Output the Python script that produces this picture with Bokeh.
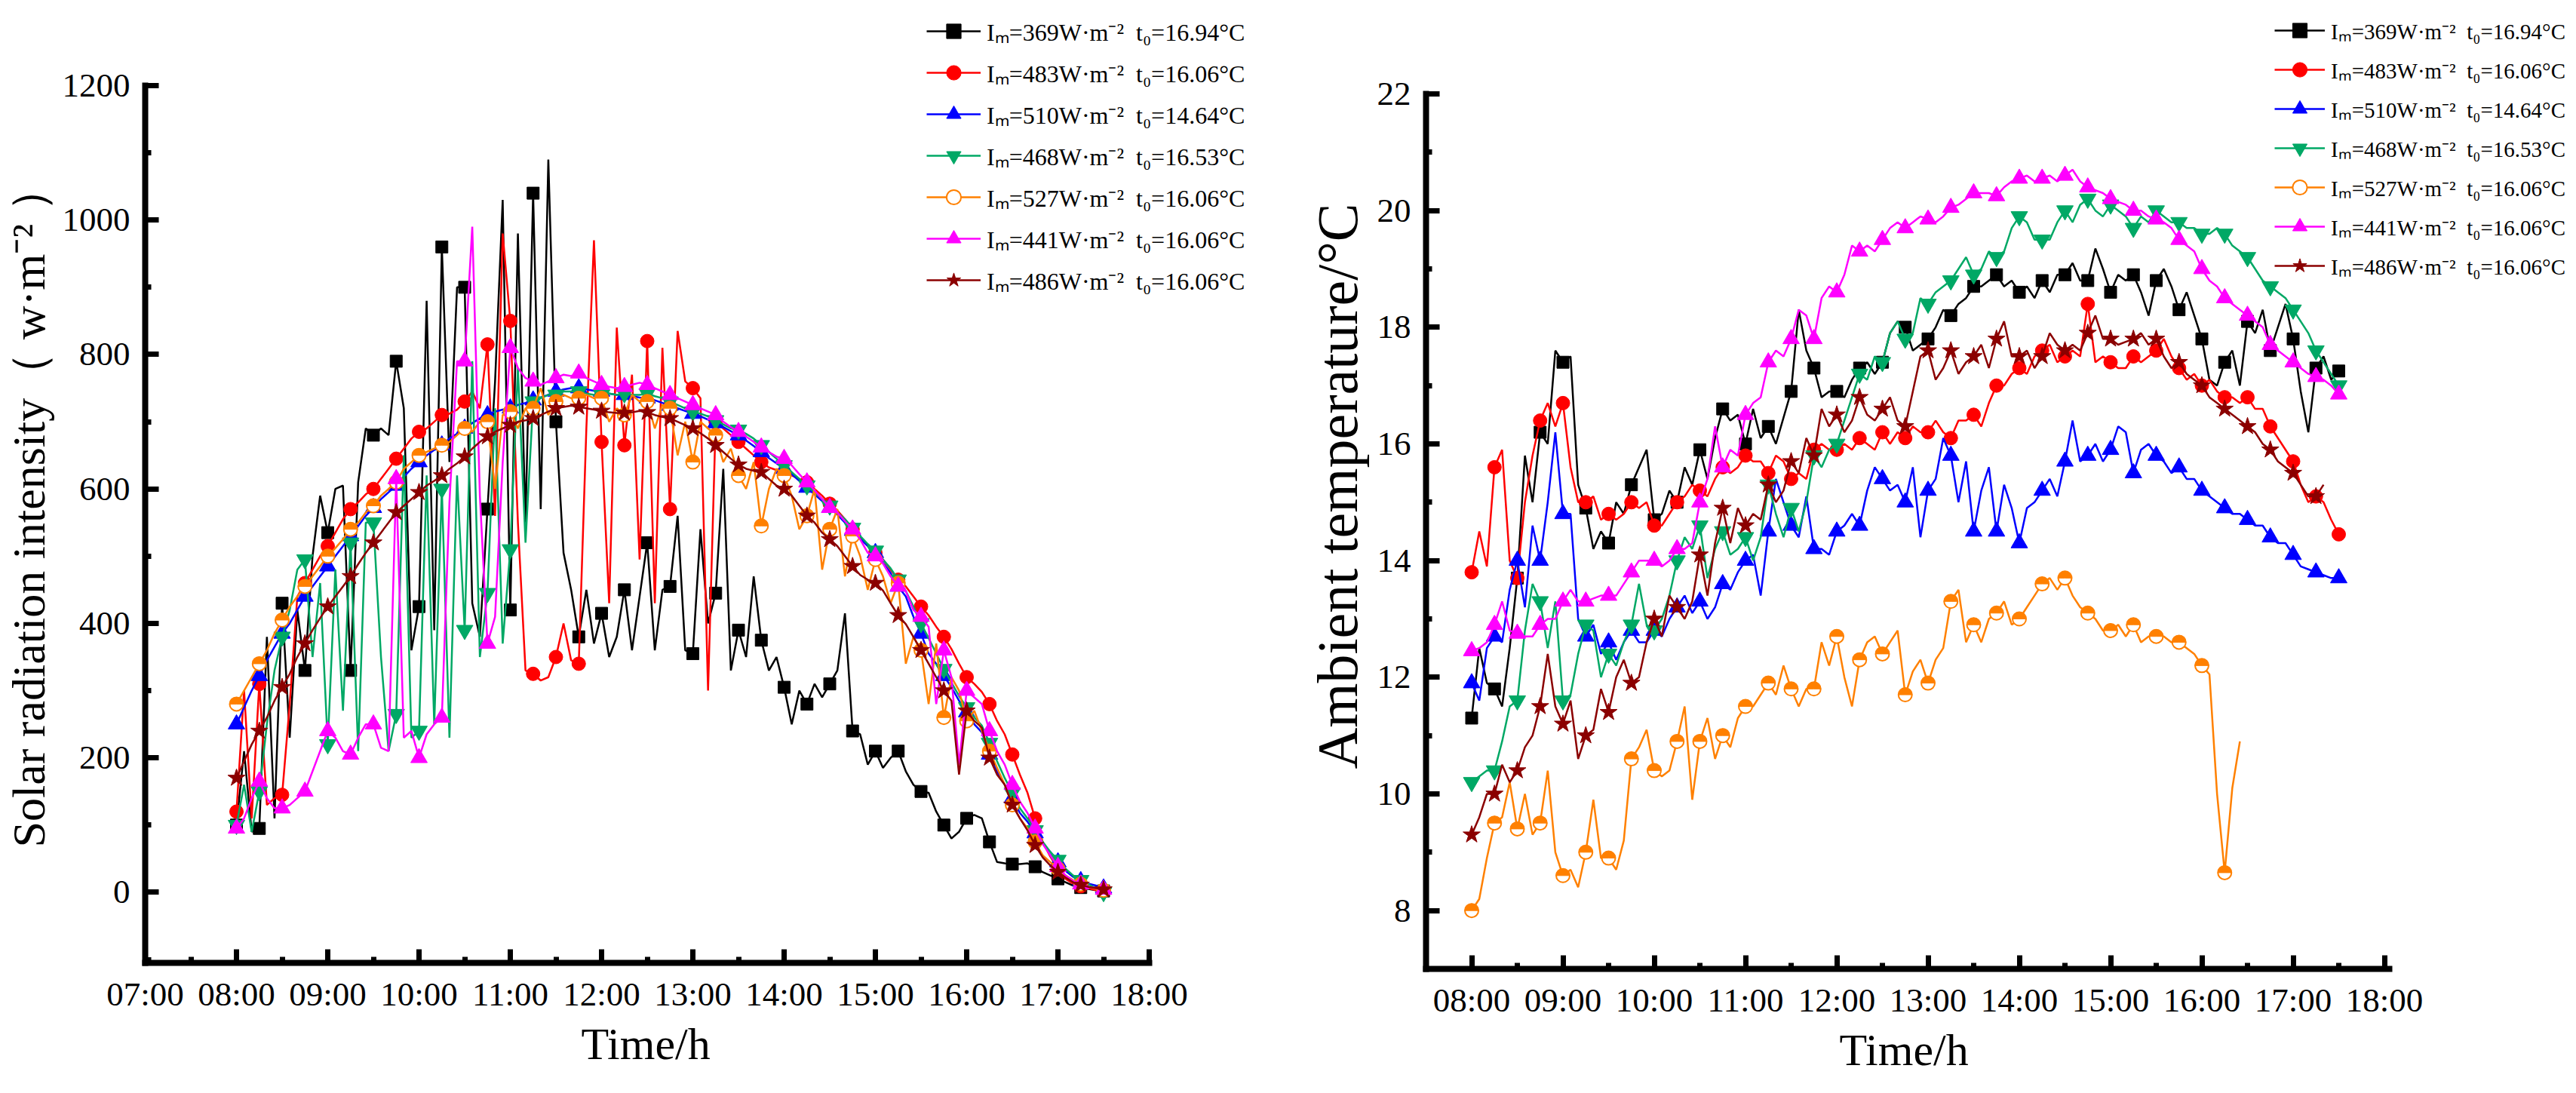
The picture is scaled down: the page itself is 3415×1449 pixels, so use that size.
import numpy as np
from bokeh.plotting import figure
from bokeh.models import FixedTicker, Legend, LegendItem, Range1d, Title
from bokeh.layouts import row
from bokeh.embed import file_html
from bokeh.resources import INLINE

# sampling times (minutes after midnight), 08:00 .. 17:30 every 5 min
minutes = list(range(480, 1051, 5))
hour_ticks = list(range(7, 19))
half_ticks = [h + 0.5 for h in range(7, 18)]
tick_labels = {h: f"{h:02d}:00" for h in hour_ticks}

labels = [
    "Iₘ=369W·m⁻²  t₀=16.94°C",
    "Iₘ=483W·m⁻²  t₀=16.06°C",
    "Iₘ=510W·m⁻²  t₀=14.64°C",
    "Iₘ=468W·m⁻²  t₀=16.53°C",
    "Iₘ=527W·m⁻²  t₀=16.06°C",
    "Iₘ=441W·m⁻²  t₀=16.06°C",
    "Iₘ=486W·m⁻²  t₀=16.06°C",
]
colors = ["#000000", "#FF0000", "#0000FF", "#00A865", "#FF8000", "#FF00FF", "#8B0000"]
markers = ["square", "circle", "triangle", "inverted_triangle", "halfcircle", "triangle", "star"]
msizes = [16, 18, 22, 22, 18, 22, 24]

# ---------------- Solar radiation intensity (W/m2) ----------------
rad_369 = [100, 210, 90, 95, 380, 110, 430, 230, 420, 330, 500, 590,
           535, 600, 605, 330, 610, 690, 680, 690, 680, 790, 720, 360,
           425, 880, 390, 960, 640, 900, 900, 430, 380, 570, 760, 1030,
           420, 980, 550, 1040, 570, 1090, 700, 505, 450, 380, 450, 370,
           415, 350, 380, 450, 360, 440, 520, 360, 450, 455, 560, 360,
           355, 540, 400, 445, 630, 330, 390, 350, 470, 375, 330, 350,
           305, 250, 300, 280, 310, 290, 310, 330, 415, 240, 235, 190,
           210, 185, 200, 210, 180, 160, 150, 148, 120, 100, 80, 90,
           110, 115, 110, 75, 45, 43, 42, 42, 43, 38, 30, 25,
           20, 15, 10, 7, 5, 3, 2]
rad_483 = [120, 300, 110, 310, 130, 140, 145, 280, 440, 460, 480, 500,
           515, 535, 555, 570, 580, 592, 600, 615, 630, 645, 660, 675,
           685, 690, 700, 710, 712, 718, 730, 745, 720, 815, 560, 980,
           850, 550, 330, 325, 315, 320, 350, 400, 345, 340, 690, 970,
           670, 430, 840, 665, 770, 495, 820, 430, 810, 570, 835, 760,
           750, 735, 300, 700, 690, 680, 670, 660, 650, 640, 632, 628,
           625, 620, 615, 610, 600, 590, 578, 568, 555, 540, 528, 515,
           505, 495, 480, 465, 455, 440, 425, 412, 395, 380, 362, 340,
           320, 310, 298, 280, 255, 235, 205, 175, 148, 110, 75, 53,
           35, 20, 13, 9, 6, 3, 2]
rad_510 = [250, 275, 300, 322, 345, 365, 385, 400, 420, 440, 455, 470,
           485, 500, 515, 530, 545, 560, 572, 585, 595, 605, 618, 630,
           640, 650, 658, 665, 675, 682, 690, 698, 705, 710, 715, 718,
           720, 725, 728, 732, 736, 740, 745, 748, 750, 750, 748, 746,
           745, 742, 740, 740, 738, 736, 735, 732, 728, 724, 720, 716,
           712, 708, 703, 698, 692, 686, 680, 672, 664, 655, 646, 638,
           630, 622, 612, 602, 592, 582, 572, 562, 550, 538, 526, 515,
           505, 490, 475, 455, 440, 410, 385, 355, 340, 322, 305, 285,
           268, 250, 238, 205, 180, 160, 140, 118, 105, 88, 72, 60,
           45, 32, 23, 17, 13, 10, 6]
rad_468 = [100, 160, 90, 150, 250, 330, 380, 420, 480, 495, 350, 460,
           220, 480, 270, 520, 210, 550, 550, 350, 210, 265, 650, 230,
           240, 620, 250, 600, 230, 620, 390, 790, 350, 445, 720, 370,
           510, 780, 520, 730, 735, 740, 740, 745, 745, 745, 742, 740,
           740, 742, 740, 742, 740, 740, 742, 738, 735, 730, 725, 720,
           715, 712, 708, 702, 696, 690, 688, 682, 675, 665, 655, 645,
           635, 625, 615, 605, 595, 585, 575, 565, 555, 542, 530, 518,
           508, 495, 482, 465, 448, 425, 400, 378, 355, 332, 312, 292,
           275, 260, 248, 222, 195, 170, 148, 125, 110, 92, 75, 60,
           48, 35, 25, 18, 12, 6, 0]
rad_527 = [280, 300, 320, 340, 360, 385, 405, 425, 440, 455, 470, 485,
           500, 512, 525, 540, 550, 565, 575, 590, 600, 610, 630, 640,
           650, 655, 660, 665, 670, 680, 690, 685, 700, 700, 600, 710,
           715, 690, 720, 720, 750, 710, 730, 740, 735, 735, 740, 735,
           735, 700, 720, 710, 740, 730, 730, 690, 725, 720, 650, 700,
           640, 700, 690, 680, 640, 660, 620, 600, 640, 545, 600, 630,
           620, 590, 540, 560, 600, 480, 540, 570, 470, 530, 500, 450,
           495, 470, 430, 460, 340, 380, 360, 280, 370, 260, 320, 300,
           255, 270, 240, 210, 185, 160, 130, 110, 95, 75, 55, 45,
           35, 25, 18, 12, 8, 5, 3]
rad_441 = [95, 110, 140, 165, 140, 125, 125, 130, 140, 150, 180, 210,
           240, 230, 210, 205, 230, 250, 250, 215, 210, 615, 230, 240,
           200, 235, 250, 260, 580, 790, 790, 990, 590, 370, 410, 640,
           810, 780, 765, 760, 755, 760, 765, 770, 768, 772, 765, 760,
           755, 752, 750, 752, 755, 758, 755, 750, 745, 740, 735, 730,
           725, 720, 715, 710, 700, 692, 685, 678, 670, 662, 655, 648,
           645, 635, 622, 610, 598, 585, 572, 565, 552, 540, 525, 505,
           500, 489, 470, 455, 448, 420, 410, 395, 280, 360, 320, 190,
           300, 290, 280, 240, 210, 190, 160, 135, 118, 95, 72, 55,
           38, 25, 17, 12, 8, 6, 4]
rad_486 = [170, 195, 220, 240, 260, 285, 305, 325, 350, 370, 390, 408,
           425, 440, 455, 470, 488, 505, 520, 535, 550, 565, 575, 585,
           595, 605, 612, 620, 630, 638, 648, 660, 670, 678, 685, 690,
           695, 700, 702, 705, 710, 715, 720, 722, 724, 722, 720, 718,
           716, 714, 713, 713, 714, 716, 714, 710, 707, 705, 700, 695,
           690, 683, 675, 665, 655, 645, 636, 630, 627, 625, 615, 605,
           600, 590, 575, 560, 550, 535, 525, 515, 500, 485, 472, 465,
           460, 449, 430, 412, 399, 380, 360, 340, 320, 300, 285, 175,
           270, 255, 245, 200, 175, 160, 130, 110, 92, 70, 52, 40,
           30, 22, 15, 11, 8, 6, 4]

# ---------------- Ambient temperature (deg C) ----------------
temp_369 = [11.3, 12.5, 11.9, 11.8, 11.5, 12.5, 13.7, 15.8, 15.0, 16.2, 16.0, 17.6,
            17.4, 17.5, 15.3, 14.9, 14.2, 14.5, 14.3, 15.0, 14.8, 15.3, 15.6, 15.9,
            14.7, 14.8, 15.2, 15.0, 15.6, 15.3, 15.9, 15.4, 16.1, 16.6, 16.4, 16.5,
            16.0, 16.6, 16.1, 16.3, 16.0, 16.45, 16.9, 18.3, 17.6, 17.3, 16.8, 16.9,
            16.9, 16.8, 17.1, 17.3, 17.4, 17.2, 17.4, 17.9, 18.1, 18.0, 17.6, 17.7,
            17.8, 18.0, 18.3, 18.2, 18.4, 18.5, 18.7, 18.7, 18.8, 18.9, 18.7, 18.8,
            18.6, 18.7, 18.5, 18.8, 18.6, 18.9, 18.9, 19.1, 18.8, 18.8, 19.35, 19.0,
            18.6, 18.9, 18.8, 18.9, 18.6, 18.2, 18.8, 19.0, 18.7, 18.3, 18.6, 18.2,
            17.8, 17.1, 17.0, 17.4, 17.6, 17.0, 18.1, 17.9, 18.3, 17.6, 18.0, 18.4,
            17.8, 16.9, 16.2, 17.3, 17.5, 17.1, 17.25]
temp_483 = [13.8, 14.5, 13.9, 15.6, 15.9, 14.0, 13.7, 15.0, 15.8, 16.4, 16.7, 16.3,
            16.7, 15.6, 15.0, 15.0, 15.1, 14.7, 14.8, 14.7, 14.8, 15.0, 14.9, 15.0,
            14.6, 14.6, 14.8, 15.0, 15.1, 15.3, 15.2, 15.1, 15.4, 15.6, 15.5, 15.6,
            15.8, 15.7, 15.7, 15.5, 15.8, 15.7, 15.4, 15.5, 15.4, 15.9, 16.0, 15.9,
            15.9, 16.0, 15.9, 16.1, 16.0, 15.9, 16.2, 16.0, 16.2, 16.1, 16.3, 16.2,
            16.2, 16.4, 16.2, 16.1, 16.4, 16.4, 16.5, 16.3, 16.7, 17.0, 17.0, 17.2,
            17.3, 17.2, 17.5, 17.6, 17.7, 17.4, 17.5, 17.6, 17.5, 18.4, 17.4, 17.5,
            17.4, 17.3, 17.3, 17.5, 17.4, 17.5, 17.6, 17.8, 17.5, 17.3, 17.1, 17.2,
            17.0, 17.1, 16.9, 16.8, 16.8, 16.7, 16.8, 16.6, 16.6, 16.3, 16.1, 15.9,
            15.7, 15.3, 15.0, 15.1, 15.0, 14.7, 14.45]
temp_510 = [11.9, 11.6, 12.5, 12.7, 12.6, 13.5, 14.0, 13.2, 14.6, 14.0, 15.0, 16.2,
            14.8, 14.8, 13.0, 12.7, 12.9, 12.4, 12.6, 12.3, 12.6, 12.8, 12.6, 12.6,
            12.8, 12.7, 13.0, 13.2, 13.4, 13.1, 13.3, 13.0, 13.2, 13.6, 13.5, 13.8,
            14.0, 14.1, 13.4, 14.5, 15.4, 15.0, 14.6, 14.4, 15.1, 14.2, 14.2, 14.1,
            14.5, 14.6, 14.8, 14.6, 15.2, 15.6, 15.4, 15.2, 15.3, 15.0, 15.6, 14.4,
            15.2, 15.4, 16.1, 15.8, 15.0, 15.7, 14.5, 15.2, 15.6, 14.5, 15.3, 14.9,
            14.3, 14.9, 15.0, 15.2, 15.4, 15.1, 15.7, 16.4, 15.7, 15.8, 16.0, 15.7,
            15.9, 16.3, 16.2, 15.5, 15.9, 16.0, 15.8, 15.7, 15.5, 15.6, 15.4, 15.4,
            15.2, 15.1, 15.0, 14.9, 14.8, 14.8, 14.7, 14.6, 14.6, 14.4, 14.3, 14.3,
            14.1, 13.9, 13.85, 13.8, 13.75, 13.7, 13.7]
temp_468 = [10.2, 10.3, 10.4, 10.4, 10.9, 11.5, 11.6, 12.8, 13.6, 13.3, 12.5, 13.3,
            11.6, 11.7, 12.4, 12.9, 12.8, 12.0, 12.4, 12.2, 12.6, 12.9, 13.6, 12.9,
            12.8, 13.0, 13.4, 14.0, 14.4, 14.2, 14.6, 13.7, 14.2, 14.5, 14.1, 14.2,
            14.4, 14.0, 14.4, 15.3, 14.8, 14.4, 14.9, 14.5, 15.0, 15.8, 15.6, 15.9,
            16.0, 16.4, 16.8, 17.2, 17.1, 17.5, 17.4, 17.9, 18.1, 17.8, 17.9, 18.5,
            18.4, 18.6, 18.7, 18.8, 19.0, 19.2, 18.9, 19.0, 19.3, 19.2, 19.3, 19.7,
            19.9, 19.8, 19.5, 19.5, 19.5, 19.8, 20.0, 19.8, 20.1, 20.2, 20.0, 19.9,
            20.1, 20.0, 19.9, 19.7, 19.9, 19.8, 20.0, 19.9, 19.8, 19.8, 19.7, 19.7,
            19.6, 19.6, 19.7, 19.6, 19.4, 19.3, 19.2, 19.0, 18.8, 18.7, 18.6, 18.5,
            18.3, 18.1, 17.9, 17.6, 17.4, 17.2, 17.0]
temp_527 = [8.0, 8.2, 8.9, 9.5, 9.6, 10.2, 9.4, 10.0, 9.3, 9.5, 10.4, 9.0,
            8.6, 8.7, 8.4, 9.0, 9.9, 8.9, 8.9, 8.7, 9.2, 10.6, 10.8, 11.1,
            10.4, 10.3, 10.4, 10.9, 11.5, 9.9, 10.9, 11.3, 10.6, 11.0, 10.8, 11.3,
            11.5, 11.5, 11.7, 11.9, 11.7, 12.2, 11.8, 11.5, 11.8, 11.8, 12.6, 12.2,
            12.7, 12.0, 11.5, 12.3, 12.6, 12.7, 12.4, 12.6, 12.8, 11.7, 12.1, 12.3,
            11.9, 12.3, 12.5, 13.3, 13.5, 12.6, 12.9, 12.6, 13.0, 13.1, 13.3, 12.9,
            13.0, 13.2, 13.4, 13.6, 13.7, 13.5, 13.7, 13.4, 13.2, 13.1, 13.0, 12.8,
            12.8, 12.9, 12.7, 12.9, 12.6, 12.7, 12.7, 12.7, 12.6, 12.6, 12.5, 12.4,
            12.2, 12.05, 10.0, 8.65, 10.1, 10.9]
temp_441 = [12.45, 12.5, 12.6, 12.9, 13.3, 12.8, 12.75, 12.7, 12.7, 12.9, 13.0, 13.0,
            13.3, 13.5, 13.3, 13.3, 13.35, 13.4, 13.4, 13.4, 13.6, 13.8, 14.0, 14.0,
            14.0, 13.9, 14.0, 14.2, 14.2, 14.3, 15.0, 15.4, 16.3, 15.6, 15.9, 15.8,
            16.5, 16.7, 16.8, 17.4, 17.6, 17.5, 17.8, 18.3, 18.2, 17.8, 18.5, 18.7,
            18.6, 18.9, 19.4, 19.3, 19.4, 19.3, 19.5, 19.7, 19.8, 19.7, 19.8, 19.9,
            19.85, 19.8, 19.9, 20.05, 20.1, 20.2, 20.3, 20.3, 20.3, 20.25, 20.4, 20.5,
            20.55, 20.6, 20.5, 20.55, 20.6, 20.5, 20.6, 20.7, 20.5, 20.4, 20.35, 20.3,
            20.2, 20.15, 20.1, 20.0, 20.0, 19.9, 19.85, 19.8, 19.7, 19.5, 19.4, 19.3,
            19.0, 18.8, 18.7, 18.5, 18.4, 18.3, 18.2, 18.1, 18.0, 17.7, 17.6, 17.5,
            17.4, 17.3, 17.2, 17.15, 17.1, 17.0, 16.85]
temp_486 = [9.3, 9.6, 10.0, 10.0, 10.5, 10.2, 10.4, 10.8, 11.0, 11.5, 12.4, 11.5,
            11.2, 11.6, 10.6, 11.0, 11.1, 11.8, 11.4, 12.0, 12.3, 11.9, 12.0, 12.6,
            13.0, 12.7, 13.4, 13.2, 13.0, 13.3, 14.1, 13.4, 14.3, 14.9, 14.3, 14.9,
            14.6, 14.8, 14.7, 15.3, 15.0, 15.2, 15.7, 15.5, 16.1, 15.8, 16.6, 16.3,
            16.5, 16.2, 16.4, 16.8, 16.5, 16.4, 16.6, 16.8, 16.4, 16.3, 16.9, 17.5,
            17.6, 17.1, 17.3, 17.6, 17.2, 17.4, 17.5, 17.7, 17.3, 17.8, 18.1, 17.5,
            17.5, 17.6, 17.3, 17.5, 17.9, 17.7, 17.6, 17.7, 17.6, 17.9, 18.2, 17.8,
            17.8, 17.7, 17.75, 17.8, 17.9, 17.7, 17.8, 17.5, 17.3, 17.4, 17.2, 17.1,
            17.0, 16.8, 16.7, 16.6, 16.5, 16.4, 16.3, 16.2, 16.0, 15.9, 15.7, 15.6,
            15.5, 15.3, 15.1, 15.1, 15.3]

rad_series = [rad_369, rad_483, rad_510, rad_468, rad_527, rad_441, rad_486]
temp_series = [temp_369, temp_483, temp_510, temp_468, temp_527, temp_441, temp_486]

FONT = "Liberation Serif"
NBSP = "\u00a0"


def style_axes(p, ylabel, ylabel_size, xlabel_offset):
    p.yaxis.axis_label = ylabel
    for ax in (p.xaxis[0], p.yaxis[0]):
        ax.axis_line_width = 8
        ax.axis_line_cap = "square"
        ax.axis_line_color = "black"
        ax.major_tick_in = 18
        ax.major_tick_out = 0
        ax.minor_tick_in = 8
        ax.minor_tick_out = 0
        ax.major_tick_line_width = 7
        ax.minor_tick_line_width = 7
        ax.major_tick_line_color = "black"
        ax.minor_tick_line_color = "black"
        ax.major_label_text_font = FONT
        ax.major_label_text_font_size = "45px"
        ax.major_label_text_color = "black"
        ax.axis_label_text_font = FONT
        ax.axis_label_text_font_style = "normal"
        ax.axis_label_text_color = "black"
    p.yaxis.axis_label_text_font_size = ylabel_size
    p.xaxis.major_label_standoff = 16
    p.yaxis.major_label_standoff = 20
    p.yaxis.axis_label_standoff = 8
    p.xgrid.visible = False
    p.ygrid.visible = False
    p.outline_line_color = None
    # x axis title, centred under the (bounded) axis line
    xt = Title(text="Time/h", align="left", offset=xlabel_offset,
               text_font=FONT, text_font_size="60px", text_font_style="normal",
               text_color="black", standoff=6)
    p.add_layout(xt, "below")


def add_series(p, ys, color, marker, size):
    xs = [m / 60 for m in minutes[:len(ys)]]
    line = p.line(xs, ys, line_color=color, line_width=2.5)
    mx, my = xs[::3], ys[::3]
    if marker == "halfcircle":
        sc = p.scatter(mx, my, marker="circle", size=size, fill_color="white",
                       line_color=color, line_width=2)
        p.wedge(mx, my, radius=size / 2, radius_units="screen", start_angle=0,
                end_angle=np.pi, fill_color=color, line_color=color, line_width=1)
    else:
        sc = p.scatter(mx, my, marker=marker, size=size, fill_color=color,
                       line_color=color)
    return [line, sc]


def make_legend(items, x, y, font_size, glyph_w, item_h, spacing):
    lg = Legend(items=items, location=(x, y), orientation="vertical")
    lg.label_text_font = FONT
    lg.label_text_font_size = font_size
    lg.label_text_color = "black"
    lg.glyph_width = glyph_w
    lg.glyph_height = item_h
    lg.label_height = item_h
    lg.label_standoff = 8
    lg.spacing = spacing
    lg.padding = 0
    lg.margin = 0
    lg.border_line_alpha = 0
    lg.background_fill_alpha = 0
    return lg


# ---------------- left: solar radiation ----------------
# frame is widened to the right and top so that the legend fits in it;
# the axes themselves are limited with bounds.
L_PX_PER_H = 121.0
L_PX_PER_U = 1163.0 / 1305.0
L_FW, L_FH = 1500, 1272
p1 = figure(frame_width=L_FW, frame_height=L_FH, output_backend="svg",
            toolbar_location=None,
            x_range=Range1d(7, 7 + L_FW / L_PX_PER_H),
            y_range=Range1d(-105, -105 + L_FH / L_PX_PER_U),
            min_border_left=182, min_border_right=10, min_border_top=4,
            min_border_bottom=157, background_fill_color="white", border_fill_color="white")
p1.xaxis.ticker = FixedTicker(ticks=hour_ticks, minor_ticks=half_ticks)
p1.xaxis.major_label_overrides = tick_labels
p1.xaxis.bounds = (7, 18)
p1.yaxis.ticker = FixedTicker(ticks=list(range(0, 1201, 200)),
                              minor_ticks=list(range(-100, 1200, 100)))
p1.yaxis.bounds = (-105, 1200)
style_axes(p1, "Solar radiation intensity（ w·m⁻² ）" + NBSP * 4, "62px", 578)
items1 = []
for lab, ys, c, mk, sz in zip(labels, rad_series, colors, markers, msizes):
    items1.append(LegendItem(label=lab, renderers=add_series(p1, ys, c, mk, sz)))
p1.add_layout(make_legend(items1, 1036, 881, "32px", 72, 48, 7))

# ---------------- right: ambient temperature ----------------
R_PX_PER_H = 121.0
R_PX_PER_U = 1160.0 / 15.0
R_FW, R_FH = 1519, 1280
p2 = figure(frame_width=R_FW, frame_height=R_FH, output_backend="svg",
            toolbar_location=None,
            x_range=Range1d(7.5, 7.5 + R_FW / R_PX_PER_H),
            y_range=Range1d(7, 7 + R_FH / R_PX_PER_U),
            min_border_left=188, min_border_right=0, min_border_top=4,
            min_border_bottom=149, background_fill_color="white", border_fill_color="white")
p2.xaxis.ticker = FixedTicker(ticks=hour_ticks[1:], minor_ticks=half_ticks)
p2.xaxis.major_label_overrides = tick_labels
p2.xaxis.bounds = (7.5, 18.05)
p2.yaxis.ticker = FixedTicker(ticks=list(range(8, 23, 2)), minor_ticks=list(range(7, 22, 2)))
p2.yaxis.bounds = (7, 22)
style_axes(p2, "Ambient temperature/°C", "76px", 548)
items2 = []
for lab, ys, c, mk, sz in zip(labels, temp_series, colors, markers, msizes):
    items2.append(LegendItem(label=lab, renderers=add_series(p2, ys, c, mk, sz)))
p2.add_layout(make_legend(items2, 1125, 908, "29px", 67, 48, 4))

layout = row(p1, p2)
open("out.html", "w").write(file_html(layout, INLINE))
